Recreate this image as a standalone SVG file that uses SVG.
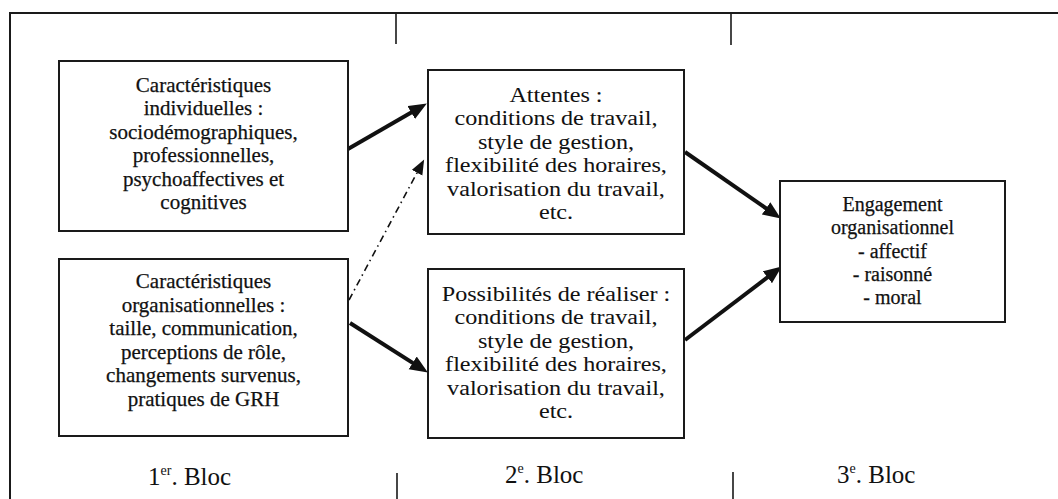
<svg xmlns="http://www.w3.org/2000/svg" width="1058" height="499" viewBox="0 0 1058 499">
<style>
.frame{fill:none;stroke:#1a1a1a;stroke-width:2}
.tick{fill:none;stroke:#1a1a1a;stroke-width:1.6}
.box{fill:#fff;stroke:#1a1a1a;stroke-width:2}
.t{font-family:"Liberation Serif","Times New Roman",serif;font-size:21px;fill:#111;stroke:#111;stroke-width:0.25;text-anchor:middle}
.w{stroke-width:0.05}
.e{font-size:20px}
.lab{font-family:"Liberation Serif","Times New Roman",serif;font-size:25px;fill:#111}
.sup{font-size:14px}
.arr{fill:none;stroke:#111;stroke-width:4;marker-end:url(#ah)}
.dash{fill:none;stroke:#111;stroke-width:1.6;stroke-dasharray:7 4 1.5 4;marker-end:url(#ahs)}
</style>
<defs>
<marker id="ah" markerUnits="userSpaceOnUse" markerWidth="19" markerHeight="16" refX="7" refY="7.5" orient="auto" viewBox="0 0 19 16">
<path d="M0,0 L18,7.5 L0,15 z" fill="#111"/>
</marker>
<marker id="ahs" markerUnits="userSpaceOnUse" markerWidth="16" markerHeight="13" refX="9" refY="6" orient="auto" viewBox="0 0 16 13">
<path d="M0,0 L15,6 L0,12 z" fill="#111"/>
</marker>
</defs>
<rect width="1058" height="499" fill="#fff"/>
<g id="frame">
<path class="frame" d="M10,499 V13 H1058"/>
<path class="tick" d="M396,13 V44 M731,13 V45 M397,473 V499 M733,472 V499"/>
</g>
<g id="connectors">
<line class="arr" x1="348" y1="149" x2="417.3" y2="109"/>
<line class="dash" x1="349" y1="300" x2="421.3" y2="164.8"/>
<line class="arr" x1="350" y1="323" x2="418.6" y2="366.6"/>
<line class="arr" x1="685" y1="152" x2="771.8" y2="212.3"/>
<line class="arr" x1="685" y1="340" x2="773" y2="273.1"/>
</g>
<g id="node-individuelles">
<rect class="box" x="59" y="61" width="289" height="170"/>
<text class="t" x="203.5" y="91.5">Caractéristiques</text>
<text class="t" x="203.5" y="115">individuelles :</text>
<text class="t" x="203.5" y="138.5">sociodémographiques,</text>
<text class="t" x="203.5" y="162">professionnelles,</text>
<text class="t" x="203.5" y="185.5">psychoaffectives et</text>
<text class="t" x="203.5" y="209">cognitives</text>
</g>
<g id="node-organisationnelles">
<rect class="box" x="59" y="259" width="289" height="177"/>
<text class="t" x="203.5" y="288">Caractéristiques</text>
<text class="t" x="203.5" y="311.5">organisationnelles :</text>
<text class="t" x="203.5" y="335">taille, communication,</text>
<text class="t" x="203.5" y="358.5">perceptions de rôle,</text>
<text class="t" x="203.5" y="382">changements survenus,</text>
<text class="t" x="203.5" y="405.5">pratiques de GRH</text>
</g>
<g id="node-attentes">
<rect class="box" x="428" y="70" width="256" height="164"/>
<g transform="translate(556 0) scale(1.15 1)">
<text class="t w" x="0" y="102">Attentes :</text>
<text class="t w" x="0" y="125.5">conditions de travail,</text>
<text class="t w" x="0" y="149">style de gestion,</text>
<text class="t w" x="0" y="172.5">flexibilité des horaires,</text>
<text class="t w" x="0" y="196">valorisation du travail,</text>
<text class="t w" x="0" y="219.5">etc.</text>
</g>
</g>
<g id="node-possibilites">
<rect class="box" x="428" y="269" width="256" height="169"/>
<g transform="translate(556 0) scale(1.15 1)">
<text class="t w" x="0" y="301">Possibilités de réaliser :</text>
<text class="t w" x="0" y="324.5">conditions de travail,</text>
<text class="t w" x="0" y="348">style de gestion,</text>
<text class="t w" x="0" y="371.5">flexibilité des horaires,</text>
<text class="t w" x="0" y="395">valorisation du travail,</text>
<text class="t w" x="0" y="418.5">etc.</text>
</g>
</g>
<g id="node-engagement">
<rect class="box" x="780" y="181" width="225" height="141"/>
<text class="t e" x="892.5" y="211">Engagement</text>
<text class="t e" x="892.5" y="234.3">organisationnel</text>
<text class="t e" x="892.5" y="257.6">- affectif</text>
<text class="t e" x="892.5" y="281">- raisonné</text>
<text class="t e" x="892.5" y="304">- moral</text>
</g>
<g id="labels">
<text class="lab" x="148" y="485">1<tspan class="sup" dy="-10">er</tspan><tspan dy="10">. Bloc</tspan></text>
<text class="lab" x="505" y="483">2<tspan class="sup" dy="-10">e</tspan><tspan dy="10">. Bloc</tspan></text>
<text class="lab" x="837" y="483">3<tspan class="sup" dy="-10">e</tspan><tspan dy="10">. Bloc</tspan></text>
</g>
</svg>
